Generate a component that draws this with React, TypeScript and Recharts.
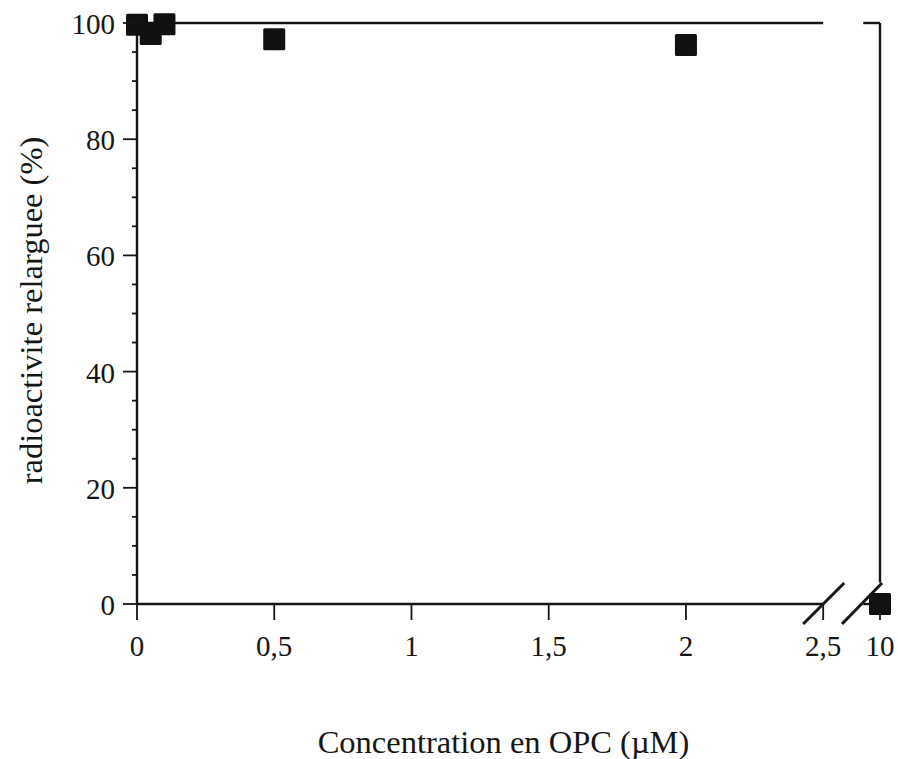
import {
  ComposedChart,
  Scatter,
  XAxis,
  YAxis,
  ReferenceLine,
} from "recharts";

// concentrations (µM) and % released radioactivity
const concentrations = [0, 0.05, 0.1, 0.5, 2, 10];
const released = [99.7, 98.1, 99.8, 97.2, 96.2, 0];

const xTickValues = [0, 0.5, 1, 1.5, 2, 2.5, 10];
const xTickLabels = ["0", "0,5", "1", "1,5", "2", "2,5", "10"];
const yTickValues = [0, 20, 40, 60, 80, 100];
const yMinorStep = 5;

// broken x axis: 0..2.5 is linear, then a break, then 10 sits at the end
const BREAK_AT = 2.5;
const AFTER_BREAK_POS = 2.707;
const GAP_END = 2.646;
const SLASH_TOP = 3.7;

const axisPos = (c: number) => (c <= BREAK_AT ? c : AFTER_BREAK_POS);

const FONT = '"Liberation Serif", "Times New Roman", serif';
const INK = "#161616";

const points = concentrations.map((c, i) => ({ x: axisPos(c), y: released[i] }));
const yTicks: number[] = [];
for (let v = 0; v <= 100; v += yMinorStep) yTicks.push(v);

const Square = (props: any) => {
  const { cx, cy } = props;
  if (cx == null || cy == null) return null;
  return <rect x={cx - 11} y={cy - 11} width={22} height={22} rx={1.5} fill="#111" />;
};

const YTick = (props: any) => {
  const { x, y, payload } = props;
  const major = yTickValues.includes(payload.value);
  return (
    <g>
      <line x1={x - (major ? 14 : 5)} x2={x} y1={y} y2={y} stroke={INK} strokeWidth={1.8} />
      {major && (
        <text x={x - 22} y={y + 11} textAnchor="end" fontSize={29} fontFamily={FONT} fill={INK}>
          {payload.value}
        </text>
      )}
    </g>
  );
};

const XTick = (props: any) => {
  const { x, y, index } = props;
  const label = xTickLabels[index];
  return (
    <g>
      <line x1={x} x2={x} y1={y} y2={y + 16} stroke={INK} strokeWidth={1.8} />
      {label === "2,5" && (
        <line x1={x - 20} y1={y + 20} x2={x + 21} y2={y - 21} stroke={INK} strokeWidth={3} />
      )}
      {label === "10" && (
        <line x1={x - 38} y1={y + 20} x2={x + 2} y2={y - 21} stroke={INK} strokeWidth={3} />
      )}
      <text x={x} y={y + 52} textAnchor="middle" fontSize={29} fontFamily={FONT} fill={INK}>
        {label}
      </text>
    </g>
  );
};

export default function App() {
  return (
    <div style={{ position: "absolute", left: 0, top: 0, background: "#fff" }}>
      <ComposedChart
        width={898}
        height={759}
        data={points}
        margin={{ top: 23, right: 18, bottom: 0, left: 0 }}
      >
        <XAxis
          dataKey="x"
          type="number"
          domain={[0, AFTER_BREAK_POS]}
          ticks={xTickValues.map(axisPos)}
          interval={0}
          height={155}
          tickSize={0}
          tickMargin={0}
          tickLine={false}
          axisLine={false}
          tick={<XTick />}
          label={{
            content: ({ viewBox }: any) => (
              <text
                x={viewBox.x + viewBox.width / 2 - 5}
                y={viewBox.y + 149}
                textAnchor="middle"
                fontSize={32.5}
                fontFamily={FONT}
                fill={INK}
              >
                Concentration en OPC (µM)
              </text>
            ),
          }}
        />
        <YAxis
          dataKey="y"
          type="number"
          domain={[0, 100]}
          ticks={yTicks}
          interval={0}
          width={137}
          tickSize={0}
          tickMargin={0}
          tickLine={false}
          axisLine={{ stroke: INK, strokeWidth: 2.4 }}
          tick={<YTick />}
          label={{
            content: ({ viewBox }: any) => {
              const lx = viewBox.x + 42;
              const ly = viewBox.y + viewBox.height / 2 - 3;
              return (
                <text
                  x={lx}
                  y={ly}
                  transform={`rotate(-90 ${lx} ${ly})`}
                  textAnchor="middle"
                  fontSize={32.5}
                  fontFamily={FONT}
                  fill={INK}
                >
                  radioactivite relarguee (%)
                </text>
              );
            },
          }}
        />

        {/* frame pieces around the axis break */}
        <ReferenceLine
          segment={[{ x: 0, y: 0 }, { x: BREAK_AT, y: 0 }]}
          stroke={INK}
          strokeWidth={2.4}
          ifOverflow="visible"
        />
        <ReferenceLine
          segment={[{ x: GAP_END, y: 0 }, { x: AFTER_BREAK_POS, y: 0 }]}
          stroke={INK}
          strokeWidth={2.4}
          ifOverflow="visible"
        />
        <ReferenceLine
          segment={[{ x: 0, y: 100 }, { x: BREAK_AT, y: 100 }]}
          stroke={INK}
          strokeWidth={2.4}
          ifOverflow="visible"
        />
        <ReferenceLine
          segment={[{ x: GAP_END, y: 100 }, { x: AFTER_BREAK_POS, y: 100 }]}
          stroke={INK}
          strokeWidth={2.4}
          ifOverflow="visible"
        />
        <ReferenceLine
          segment={[{ x: AFTER_BREAK_POS, y: 100 }, { x: AFTER_BREAK_POS, y: SLASH_TOP }]}
          stroke={INK}
          strokeWidth={2.4}
          ifOverflow="visible"
        />

        <Scatter data={points} dataKey="y" shape={<Square />} isAnimationActive={false} />
      </ComposedChart>
    </div>
  );
}
